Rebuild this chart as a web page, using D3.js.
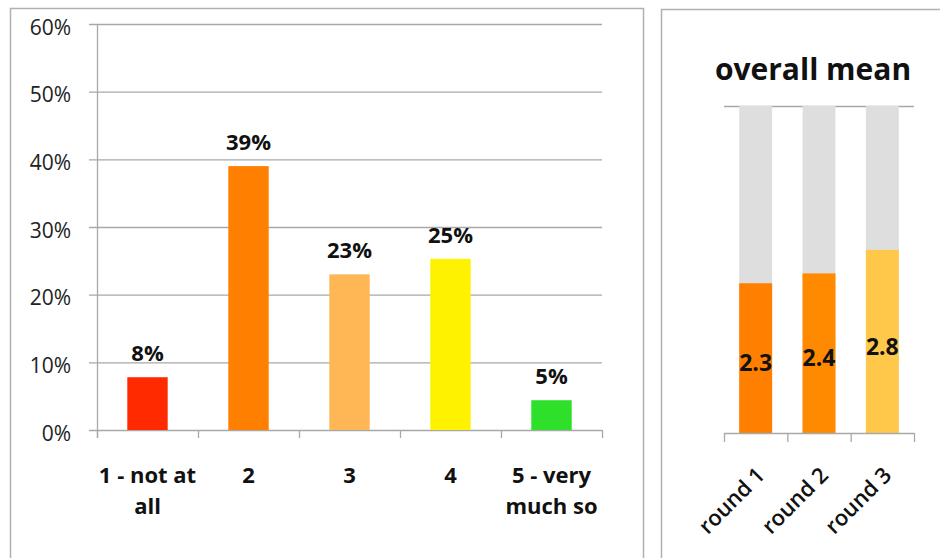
<!DOCTYPE html>
<html><head><meta charset="utf-8">
<script src="https://cdn.jsdelivr.net/npm/d3@7/dist/d3.min.js"></script>
<style>body{margin:0;background:#fff}svg{display:block;font-family:"Open Sans",Lato,sans-serif}</style>
</head><body><svg id="c" width="940" height="558"></svg>
<script>
const categories = ["1 - not at|all","2","3","4","5 - very|much so"];
const shares = [0.078, 0.39, 0.23, 0.253, 0.044];
const shareLabels = ["8%","39%","23%","25%","5%"];
const barColors = ["#ff2a00","#ff7f00","#ffb655","#fff200","#2ee02a"];
const yTicks = [0,0.1,0.2,0.3,0.4,0.5,0.6];
const rounds = ["round 1","round 2","round 3"];
const means = [2.29, 2.44, 2.8];
const meanLabels = ["2.3","2.4","2.8"];
const roundColors = ["#ff8000","#ff8a00","#ffc84b"];
const meanMax = 5;

const svg = d3.select("#c");
const grid = "#a8a8a8";

// panel borders
svg.append("rect").attr("x",10.5).attr("y",8.5).attr("width",633).attr("height",560).attr("fill","none").attr("stroke","#b0b0b0").attr("stroke-width",1.5);
svg.append("rect").attr("x",661.5).attr("y",9.5).attr("width",300).attr("height",560).attr("fill","none").attr("stroke","#b0b0b0").attr("stroke-width",1.5);

// left chart
const x = d3.scaleBand().domain(categories).range([97,602]).paddingInner(0.6).paddingOuter(0.3);
const xb = d3.scaleBand().domain(categories).range([97,602]);
const y = d3.scaleLinear().domain([0,0.6]).range([430,24]);
const g = svg.append("g");
g.selectAll("line.grid").data(yTicks).join("line").attr("class","grid")
  .attr("x1",89).attr("x2",602).attr("y1",d=>y(d)+0.5).attr("y2",d=>y(d)+0.5)
  .attr("stroke",grid).attr("stroke-width",1.3);
g.append("line").attr("x1",97.5).attr("x2",97.5).attr("y1",y(0.6)).attr("y2",438).attr("stroke",grid).attr("stroke-width",1.3);
const tickXs = categories.map(c=>xb(c)).concat([602]);
g.selectAll("line.xt").data(tickXs).join("line").attr("class","xt")
  .attr("x1",d=>d+0.5).attr("x2",d=>d+0.5).attr("y1",430).attr("y2",438).attr("stroke",grid).attr("stroke-width",1.3);
g.selectAll("text.yl").data(yTicks).join("text").attr("class","yl")
  .attr("x",71).attr("y",d=>y(d)+3).attr("dy","0.36em").attr("text-anchor","end")
  .attr("font-size",21).attr("fill","#222").text(d=>d3.format(".0%")(d));
g.selectAll("rect.bar").data(shares).join("rect").attr("class","bar")
  .attr("x",(d,i)=>x(categories[i])).attr("width",x.bandwidth())
  .attr("y",d=>y(d)).attr("height",d=>y(0)-y(d)).attr("fill",(d,i)=>barColors[i]);
g.selectAll("text.vl").data(shares).join("text").attr("class","vl")
  .attr("x",(d,i)=>x(categories[i])+x.bandwidth()/2).attr("y",d=>y(d)-16)
  .attr("text-anchor","middle").attr("font-size",22).attr("font-weight","bold").attr("fill","#111")
  .text((d,i)=>shareLabels[i]);
categories.forEach(c=>{
  const t = g.append("text").attr("text-anchor","middle").attr("font-size",22).attr("font-weight","bold").attr("fill","#111");
  c.split("|").forEach((line,k)=>{
    t.append("tspan").attr("x",xb(c)+xb.bandwidth()/2).attr("y",483+k*31).text(line);
  });
});

// right chart
const rx = d3.scaleBand().domain(rounds).range([724,914]).paddingInner(0.48).paddingOuter(0.24);
const rxb = d3.scaleBand().domain(rounds).range([724,914]);
const ry = d3.scaleLinear().domain([0,meanMax]).range([433,106]);
const r = svg.append("g");
r.append("text").attr("x",813).attr("y",80).attr("text-anchor","middle").attr("font-size",30).attr("font-weight","bold").attr("fill","#111").text("overall mean");
r.append("line").attr("x1",724).attr("x2",914).attr("y1",ry(meanMax)+0.5).attr("y2",ry(meanMax)+0.5).attr("stroke",grid).attr("stroke-width",1.3);
r.selectAll("rect.bg").data(rounds).join("rect").attr("class","bg")
  .attr("x",d=>rx(d)).attr("width",rx.bandwidth()).attr("y",ry(meanMax)).attr("height",ry(0)-ry(meanMax)).attr("fill","#dedede");
r.selectAll("rect.m").data(means).join("rect").attr("class","m")
  .attr("x",(d,i)=>rx(rounds[i])).attr("width",rx.bandwidth()).attr("y",d=>ry(d)).attr("height",d=>ry(0)-ry(d)).attr("fill",(d,i)=>roundColors[i]);
r.selectAll("text.ml").data(means).join("text").attr("class","ml")
  .attr("x",(d,i)=>rx(rounds[i])+rx.bandwidth()/2).attr("y",d=>(ry(d)+ry(0))/2+5).attr("dy","0.36em")
  .attr("text-anchor","middle").attr("font-size",23).attr("font-weight","bold").attr("fill","#111").text((d,i)=>meanLabels[i]);
r.append("line").attr("x1",724).attr("x2",914).attr("y1",433.5).attr("y2",433.5).attr("stroke",grid).attr("stroke-width",1.3);
const rt = rounds.map(d=>rxb(d)).concat([914]);
r.selectAll("line.rt").data(rt).join("line").attr("class","rt")
  .attr("x1",d=>d+0.5).attr("x2",d=>d+0.5).attr("y1",433).attr("y2",442).attr("stroke",grid).attr("stroke-width",1.3);
r.selectAll("text.rl").data(rounds).join("text").attr("class","rl")
  .attr("transform",d=>`translate(${rxb(d)+rxb.bandwidth()/2+5},${471}) rotate(-45)`)
  .attr("text-anchor","end").attr("dy","0.36em").attr("font-size",22).attr("font-weight",600).attr("fill","#111").text(d=>d);
</script></body></html>
